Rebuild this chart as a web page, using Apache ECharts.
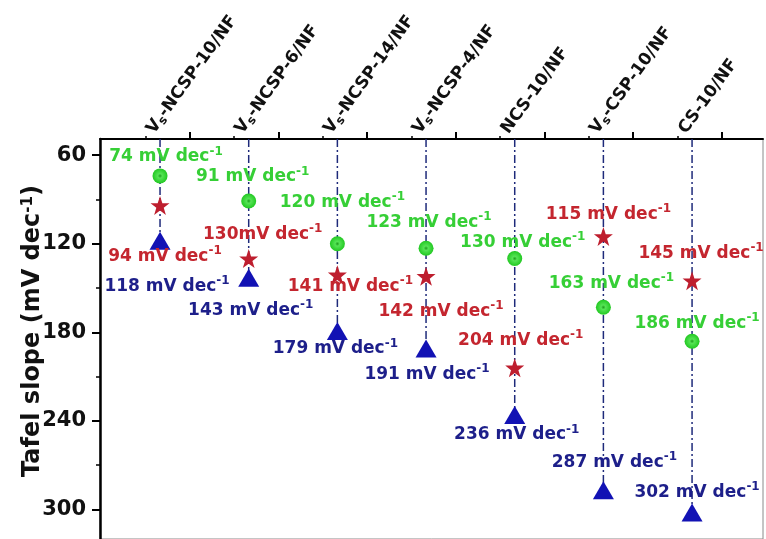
<!DOCTYPE html>
<html>
<head>
<meta charset="utf-8">
<script src="https://cdn.jsdelivr.net/npm/echarts@6/dist/echarts.min.js"></script>
<style>
  html, body { margin: 0; padding: 0; background: #ffffff; }
  #chart { width: 766px; height: 539px; }
</style>
</head>
<body>
<div id="chart"></div>
<script>
// Samples, left to right along the top axis ("V_s" = V with subscript s)
const categories = ['V_s-NCSP-10/NF', 'V_s-NCSP-6/NF', 'V_s-NCSP-14/NF', 'V_s-NCSP-4/NF', 'NCS-10/NF', 'V_s-CSP-10/NF', 'CS-10/NF'];
// Tafel slopes in mV dec^-1
const greenSlopes = [74, 91, 120, 123, 130, 163, 186];
const redSlopes = [94, 130, 141, 142, 204, 115, 145];
const blueSlopes = [118, 143, 179, 191, 236, 287, 302];
// Left axis tick labels
const yTickLabels = [60, 120, 180, 240, 300];
const yMinorTicks = [90, 150, 210, 270];

// Label placement around each marker (pixel offsets from the marker centre)
const greenLabelOffsets = [[6, -19], [4, -24], [5, -41], [3, -26], [8, -16], [8, -24], [5, -18]];
const redLabelOffsets = [[5, 51], [14, -24], [13, 12], [15, 35], [6, -27], [5, -22], [9, -27]];
const blueLabelOffsets = [[7, 46], [2, 33], [-2, 18], [1, 26], [2, 20], [11, -28], [5, -20]];
// One red label is written without a space before the unit
const redUnitGap = [' ', '', ' ', ' ', ' ', ' ', ' '];

const FONT = 'DejaVu Sans';
const Y_MIN = 49, Y_MAX = 320;
const X_MIN = -0.677, X_MAX = 6.8;

const catIdx = categories.map((_, i) => i);
const majorTopTicks = catIdx.map(i => i + 1 / 3);
const minorTopTicks = catIdx.map(i => i - 1 / 6);

const STAR = 'path://M50,0 L61.8,35.1 L97.6,35.1 L68.5,56.8 L79.4,91 L50,70 L20.6,91 L31.5,56.8 L2.4,35.1 L38.2,35.1 Z';

function catLabel(name) {
  if (name.startsWith('V_s')) {
    return '{a|V}{b|s}{a|' + name.slice(3) + '}';
  }
  return '{a|' + name + '}';
}

function pointLabel(color) {
  return {
    show: true,
    position: 'inside',
    opacity: 1,
    fontFamily: FONT,
    fontWeight: 'bold',
    fontSize: 17,
    lineHeight: 23,
    color: color,
    rich: {
      s: { fontFamily: FONT, fontWeight: 'bold', fontSize: 12, lineHeight: 11, verticalAlign: 'top', color: color }
    }
  };
}

function scatterData(values, offsets, gaps) {
  return values.map((v, i) => ({
    value: [i, v],
    label: {
      offset: offsets[i],
      formatter: v + (gaps ? gaps[i] : ' ') + 'mV dec{s|-1}'
    }
  }));
}

const dropLines = blueSlopes.map((v, i) => ({
  type: 'line',
  data: [[i, Y_MIN], [i, v]],
  symbol: 'none',
  silent: true,
  z: 1,
  lineStyle: { color: '#1e2a7a', width: 1.5, type: [8, 3, 2, 3] }
}));

const chart = echarts.init(document.getElementById('chart'), null, { renderer: 'canvas' });

chart.setOption({
  backgroundColor: '#ffffff',
  animation: false,
  grid: {
    left: 100, top: 139, width: 663, height: 404,
    show: true, borderColor: '#8a8a8a', borderWidth: 1
  },
  xAxis: [
    {
      type: 'value', position: 'top', min: X_MIN, max: X_MAX,
      splitLine: { show: false },
      axisLine: { show: true, onZero: false, lineStyle: { color: '#000', width: 2 } },
      axisTick: { show: true, inside: false, length: 7, customValues: majorTopTicks, lineStyle: { color: '#000', width: 2 } },
      axisLabel: {
        show: true,
        customValues: catIdx,
        rotate: -54,
        margin: 0,
        align: 'left',
        verticalAlign: 'bottom',
        padding: [0, 0, 2, 0],
        formatter: v => catLabel(categories[Math.round(v)]),
        rich: {
          a: { fontFamily: FONT, fontWeight: 'bold', fontSize: 17, lineHeight: 20, color: '#111' },
          b: { fontFamily: FONT, fontWeight: 'bold', fontSize: 12, lineHeight: 10, verticalAlign: 'bottom', color: '#111' }
        }
      }
    },
    {
      type: 'value', position: 'top', min: X_MIN, max: X_MAX,
      splitLine: { show: false },
      axisLine: { show: false, onZero: false },
      axisLabel: { show: false },
      axisTick: { show: true, inside: false, length: 3, customValues: minorTopTicks, lineStyle: { color: '#000', width: 1.5 } }
    }
  ],
  yAxis: [
    {
      type: 'value', inverse: true, min: Y_MIN, max: Y_MAX, position: 'left',
      splitLine: { show: false },
      axisLine: { show: true, onZero: false, lineStyle: { color: '#000', width: 2.5 } },
      axisTick: { show: true, inside: false, length: 8, customValues: yTickLabels, lineStyle: { color: '#000', width: 2 } },
      axisLabel: {
        show: true, customValues: yTickLabels, margin: 14,
        fontFamily: FONT, fontWeight: 'bold', fontSize: 21, color: '#111'
      },
      name: 'Tafel slope (mV dec{s|-1})',
      nameLocation: 'middle',
      nameRotate: 90,
      nameGap: 55,
      nameMoveOverlap: false,
      nameTextStyle: {
        fontFamily: FONT, fontWeight: 'bold', fontSize: 24, color: '#111',
        padding: [0, 0, 0, 16],
        rich: { s: { fontFamily: FONT, fontWeight: 'bold', fontSize: 15, lineHeight: 12, verticalAlign: 'top', color: '#111' } }
      }
    },
    {
      type: 'value', inverse: true, min: Y_MIN, max: Y_MAX, position: 'left',
      splitLine: { show: false },
      axisLine: { show: false, onZero: false },
      axisLabel: { show: false },
      axisTick: { show: true, inside: false, length: 4, customValues: yMinorTicks, lineStyle: { color: '#000', width: 1.5 } }
    }
  ],
  series: [
    ...dropLines,
    {
      type: 'scatter', name: 'green', z: 3,
      symbol: 'circle', symbolSize: 15,
      itemStyle: {
        opacity: 1,
        color: {
          type: 'radial', x: 0.5, y: 0.5, r: 0.5,
          colorStops: [
            { offset: 0, color: '#1c9c1c' },
            { offset: 0.3, color: '#55e455' },
            { offset: 1, color: '#22c822' }
          ]
        }
      },
      label: pointLabel('#36cf36'),
      data: scatterData(greenSlopes, greenLabelOffsets)
    },
    {
      type: 'scatter', name: 'red', z: 3,
      symbol: STAR, symbolSize: 19,
      itemStyle: { color: '#be1e2e', opacity: 1 },
      label: pointLabel('#c4262f'),
      data: scatterData(redSlopes, redLabelOffsets, redUnitGap)
    },
    {
      type: 'scatter', name: 'blue', z: 3,
      symbol: 'triangle', symbolSize: [21, 18],
      itemStyle: { color: '#1212b4', opacity: 1 },
      label: pointLabel('#1d1f8a'),
      data: scatterData(blueSlopes, blueLabelOffsets)
    }
  ]
});
</script>
</body>
</html>
